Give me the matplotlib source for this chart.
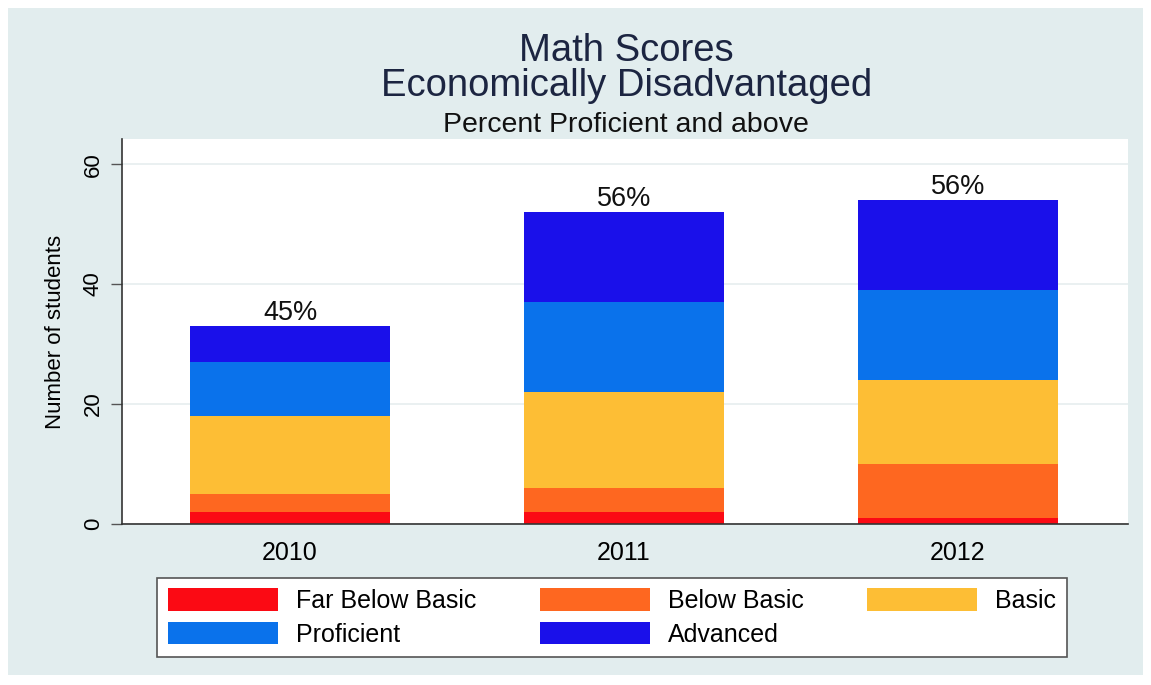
import numpy as np
import matplotlib.pyplot as plt
from matplotlib.patches import Rectangle, Patch

plt.rcParams['font.family'] = ['Liberation Sans', 'DejaVu Sans']

# data
years = ['2010', '2011', '2012']
far_below_basic = [2, 2, 1]
below_basic = [3, 4, 9]
basic = [13, 16, 14]
proficient = [9, 15, 15]
advanced = [6, 15, 15]
pct_labels = ['45%', '56%', '56%']

levels = ['Far Below Basic', 'Below Basic', 'Basic', 'Proficient', 'Advanced']
colors = ['#FB0A14', '#FE6720', '#FDBE35', '#0A72EB', '#1A10EA']
series = [far_below_basic, below_basic, basic, proficient, advanced]

fig = plt.figure(figsize=(11.51, 6.85), dpi=100, facecolor='white')
# light background panel behind everything
fig.patches.append(Rectangle((8 / 1151, 10 / 685), 1135 / 1151, 667 / 685,
                             transform=fig.transFigure, facecolor='#E2EDEE',
                             edgecolor='none', zorder=-10))

ax = fig.add_axes([122 / 1151, 1 - 524 / 685, 1006 / 1151, 385 / 685])
ax.set_zorder(1)
ax.set_facecolor('white')

x = np.arange(len(years))
bottom = np.zeros(len(years))
handles = []
for name, vals, c in zip(levels, series, colors):
    ax.bar(x, vals, width=0.6, bottom=bottom, color=c, edgecolor='none', zorder=2)
    bottom += np.array(vals)
    handles.append(Patch(facecolor=c, edgecolor='none', label=name))

for xi, tot, lab in zip(x, bottom, pct_labels):
    ax.annotate(lab, (xi, tot), xytext=(0, 0), textcoords='offset points',
                ha='center', va='bottom', fontsize=19.5, color='#111111')

ax.set_xlim(-0.503, 2.509)
ax.set_ylim(0, 64.2)
ax.set_yticks([0, 20, 40, 60])
ax.yaxis.grid(True, color='#E6EEEF', linewidth=1.2, zorder=0)
ax.set_axisbelow(True)
ax.set_xticks(x)
ax.set_xticklabels(years)
ax.tick_params(axis='x', length=0, pad=12, labelsize=18)
ax.tick_params(axis='y', length=8, width=1, color='#555555', pad=5,
               labelsize=16, labelrotation=90)
for lab in ax.get_yticklabels():
    lab.set_va('center')
ax.set_ylabel('Number of students', fontsize=16, labelpad=12)
for side in ['top', 'right']:
    ax.spines[side].set_visible(False)
for side in ['left', 'bottom']:
    ax.spines[side].set_color('#333333')
    ax.spines[side].set_linewidth(1.2)

fig.text(0.544, 1 - 51 / 685, 'Math Scores', ha='center', va='center',
         fontsize=27.5, color='#1C2541')
fig.text(0.544, 1 - 86 / 685, 'Economically Disadvantaged', ha='center', va='center',
         fontsize=27.5, color='#1C2541')
fig.text(0.544, 1 - 125 / 685, 'Percent Proficient and above', ha='center', va='center',
         fontsize=20.5, color='#111111')

# legend filled row-wise
order = [0, 3, 1, 4, 2]
leg = fig.legend([handles[i] for i in order], [levels[i] for i in order],
                 ncol=3, loc='center', bbox_to_anchor=(612 / 1151, 1 - 617.5 / 685),
                 fontsize=18, handlelength=4.4, handleheight=1.0,
                 handletextpad=0.72, columnspacing=2.55, labelspacing=0.35,
                 frameon=True, fancybox=False, borderpad=0.42, framealpha=1)
leg.get_frame().set_facecolor('white')
leg.get_frame().set_edgecolor('#555555')
leg.get_frame().set_linewidth(1.2)

fig.savefig('out.png', dpi=100, facecolor='white')
